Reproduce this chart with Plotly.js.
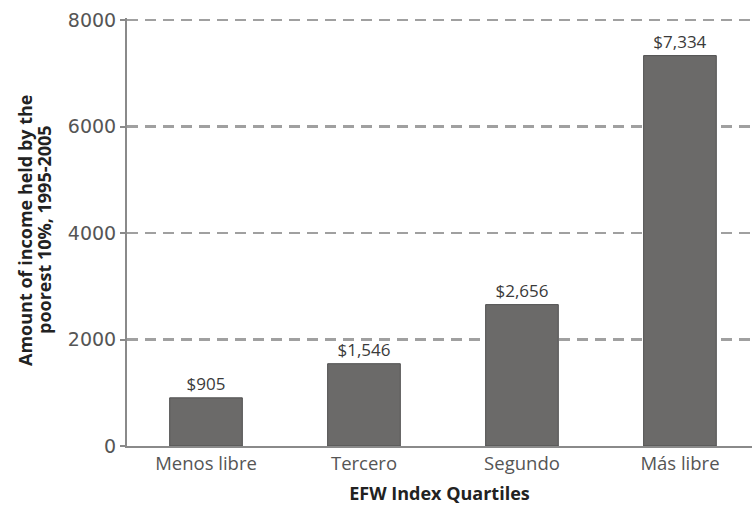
<!DOCTYPE html>
<html>
<head>
<meta charset="utf-8">
<script src="https://cdn.plot.ly/plotly-3.0.1.min.js"></script>
<style>html,body{margin:0;padding:0;background:#fff;}#chart{width:752px;height:509px;}</style>
</head>
<body>
<div id="chart"></div>
<script>
const categories = ["Menos libre", "Tercero", "Segundo", "Más libre"];
const values = [905, 1546, 2656, 7334];
const valueLabels = ["$905", "$1,546", "$2,656", "$7,334"];
const yTicks = [0, 2000, 4000, 6000, 8000];
const yTitleLines = ["Amount of income held by the", "poorest 10%, 1995-2005"];

const trace = {
  type: "bar",
  x: categories,
  y: values,
  text: valueLabels,
  textposition: "outside",
  cliponaxis: false,
  textfont: {family: "Open Sans, sans-serif", size: 17, color: "#3a3a3a"},
  marker: {color: "#6b6a69", line: {color: "#505050", width: 1}},
  width: 0.46,
  hoverinfo: "none"
};

const layout = {
  width: 752, height: 509,
  margin: {l: 127, r: 0, t: 18, b: 63},
  paper_bgcolor: "#fff", plot_bgcolor: "#fff",
  showlegend: false,
  font: {family: "Open Sans, sans-serif", color: "#555"},
  xaxis: {
    type: "category",
    range: [-0.5, 3.456],
    showgrid: false,
    showline: true, linecolor: "#8a8a8a", linewidth: 2,
    ticks: "",
    tickfont: {size: 18.5, color: "#555"},
    title: {text: "<b>EFW Index Quartiles</b>", font: {size: 18, color: "#222"}, standoff: 13}
  },
  yaxis: {
    range: [0, 8040],
    tickvals: yTicks,
    ticktext: yTicks.map(String),
    showgrid: true, gridcolor: "#a0a0a0", gridwidth: 2.5, griddash: "11px,7px",
    zeroline: false,
    showline: true, linecolor: "#8a8a8a", linewidth: 2,
    ticks: "outside", ticklen: 5, tickcolor: "#8a8a8a", tickwidth: 2,
    tickfont: {family: "DejaVu Sans, sans-serif", size: 19, color: "#555"}
  },
  annotations: [
    {text: "<b>" + yTitleLines[0] + "</b>", xref: "paper", yref: "paper", x: 0, y: 0.5, xshift: -102, yshift: 2,
     xanchor: "center", yanchor: "middle", textangle: -90, showarrow: false, font: {size: 18, color: "#222"}},
    {text: "<b>" + yTitleLines[1] + "</b>", xref: "paper", yref: "paper", x: 0, y: 0.5, xshift: -83, yshift: 2,
     xanchor: "center", yanchor: "middle", textangle: -90, showarrow: false, font: {size: 18, color: "#222"}}
  ]
};

Plotly.newPlot("chart", [trace], layout, {displayModeBar: false, staticPlot: true});
</script>
</body>
</html>
